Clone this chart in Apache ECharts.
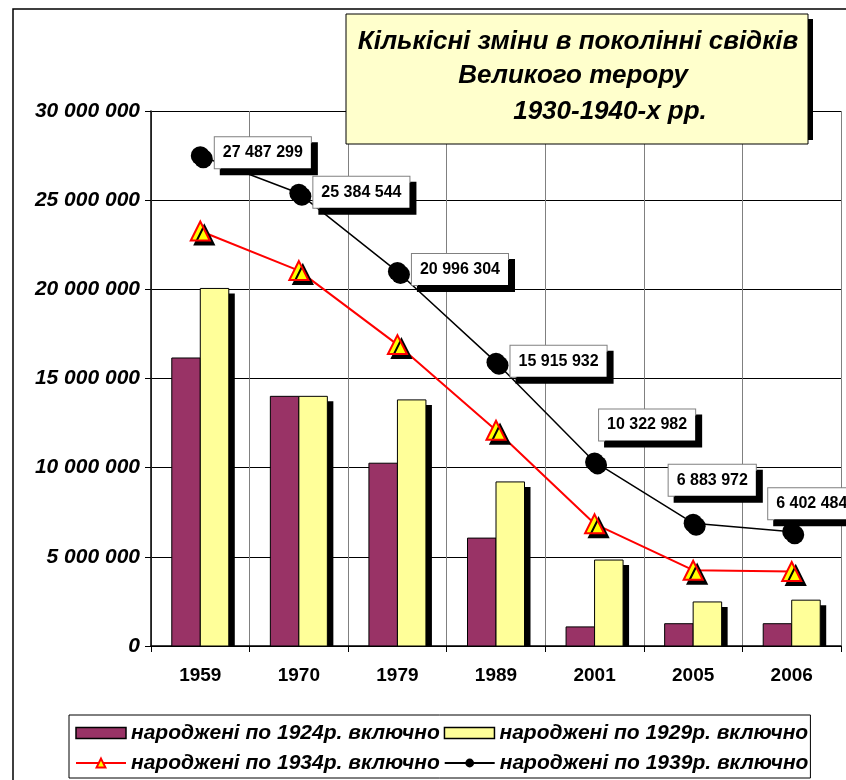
<!DOCTYPE html>
<html>
<head>
<meta charset="utf-8">
<script src="https://cdn.jsdelivr.net/npm/echarts@6/dist/echarts.min.js"></script>
<style>
  html, body { margin: 0; padding: 0; background: #fff; }
  #chart { width: 846px; height: 780px; }
</style>
</head>
<body>
<div id="chart"></div>
<script>
const years = ['1959', '1970', '1979', '1989', '2001', '2005', '2006']
const born1924 = [16150000, 14000000, 10250000, 6050000, 1070000, 1250000, 1250000]
const born1929 = [20050000, 14000000, 13800000, 9200000, 4820000, 2470000, 2570000]
const born1934 = [23270000, 21050000, 16900000, 12100000, 6850000, 4250000, 4180000]
const born1939 = [27487299, 25384544, 20996304, 15915932, 10322982, 6883972, 6402484]
const seriesNames = [
  'народжені по 1924р. включно',
  'народжені по 1929р. включно',
  'народжені по 1934р. включно',
  'народжені по 1939р. включно'
]
const titleLines = ['Кількісні зміни в поколінні свідків', 'Великого терору', '1930-1940-х рр.']

const FONT = '"Liberation Sans", Arial, sans-serif'
const fmtNum = v => String(v).replace(/\B(?=(\d{3})+(?!\d))/g, ' ')

// label offsets for the black line, relative to the default 'right' position
const labelOffsets = [[0, -3], [0, -1], [0, -2], [0, -1], [-10, -37], [-39, -43], [-38, -28]]

const chart = echarts.init(document.getElementById('chart'), null, { renderer: 'canvas' })

// bars drawn by hand so the drop shadow sits behind the outline
function barRenderer(side, color) {
  return function (params, api) {
    const base = api.coord([api.value(0), 0])
    const top = api.coord([api.value(0), api.value(1)])
    const bw = 28.5
    const x = side === 0 ? base[0] - bw : base[0]
    const h = base[1] - top[1]
    return {
      type: 'group',
      children: [
        { type: 'rect', shape: { x: x + 6, y: top[1] + 5, width: bw, height: Math.max(h - 4, 0) }, style: { fill: '#000' } },
        { type: 'rect', shape: { x: x, y: top[1], width: bw, height: h }, style: { fill: color, stroke: '#000', lineWidth: 1 } }
      ]
    }
  }
}

chart.setOption({
  animation: false,
  backgroundColor: '#fff',
  textStyle: { fontFamily: FONT },
  grid: { left: 151, right: 5, top: 111, bottom: 134, containLabel: false },
  xAxis: {
    type: 'category',
    data: years,
    axisLine: { lineStyle: { color: '#000', width: 1.5 } },
    axisTick: { show: true, length: 6, lineStyle: { color: '#000' } },
    axisLabel: { color: '#000', fontSize: 19, fontWeight: 'bold', margin: 20, fontFamily: FONT },
    splitLine: { show: true, lineStyle: { color: '#808080', width: 1 } }
  },
  yAxis: {
    type: 'value',
    min: 0,
    max: 30000000,
    interval: 5000000,
    axisLine: { show: true, lineStyle: { color: '#000', width: 1.5 } },
    axisTick: { show: true, length: 6, lineStyle: { color: '#000' } },
    axisLabel: {
      color: '#000', fontSize: 21, fontWeight: 'bold', fontStyle: 'italic',
      margin: 11, fontFamily: FONT, formatter: fmtNum
    },
    splitLine: { show: true, lineStyle: { color: '#000', width: 1 } }
  },
  legend: {
    left: 69,
    top: 715,
    width: 780,
    padding: [5, 2, 2, 6],
    borderColor: '#000',
    borderWidth: 1,
    itemWidth: 50,
    itemHeight: 11,
    itemGap: 4,
    textStyle: { color: '#000', fontSize: 21, fontWeight: 'bold', fontStyle: 'italic', fontFamily: FONT, lineHeight: 26 },
    itemStyle: { shadowBlur: 0, shadowColor: 'transparent', shadowOffsetX: 0, shadowOffsetY: 0 },
    data: [
      { name: seriesNames[0], icon: 'rect', itemStyle: { color: '#993366', borderColor: '#000', borderWidth: 1.5 } },
      { name: seriesNames[1], icon: 'rect', itemStyle: { color: '#FFFF99', borderColor: '#000', borderWidth: 1.5 } },
      { name: seriesNames[2] },
      { name: seriesNames[3] }
    ]
  },
  graphic: [
    { type: 'rect', shape: { x: 13, y: 9, width: 1000, height: 1000 }, style: { fill: 'none', stroke: '#000', lineWidth: 1.5 }, z: 0 },
    { type: 'rect', shape: { x: 808, y: 19, width: 5, height: 121 }, style: { fill: '#000' }, z: 100 },
    { type: 'rect', shape: { x: 346, y: 14, width: 462, height: 130 }, style: { fill: '#FFFFCC', stroke: '#000', lineWidth: 1 }, z: 100 },
    { type: 'text', x: 578, y: 42, style: { text: titleLines[0], font: 'italic bold 26px ' + FONT, fill: '#000', align: 'center', verticalAlign: 'middle' }, z: 101 },
    { type: 'text', x: 573, y: 76, style: { text: titleLines[1], font: 'italic bold 26px ' + FONT, fill: '#000', align: 'center', verticalAlign: 'middle' }, z: 101 },
    { type: 'text', x: 610, y: 112, style: { text: titleLines[2], font: 'italic bold 26px ' + FONT, fill: '#000', align: 'center', verticalAlign: 'middle' }, z: 101 }
  ],
  series: [
    {
      name: seriesNames[0],
      type: 'custom',
      renderItem: barRenderer(0, '#993366'),
      data: born1924.map((v, i) => [i, v]),
      encode: { x: 0, y: 1 },
      itemStyle: { color: '#993366', borderColor: '#000', borderWidth: 1 }
    },
    {
      name: seriesNames[1],
      type: 'custom',
      renderItem: barRenderer(1, '#FFFF99'),
      data: born1929.map((v, i) => [i, v]),
      encode: { x: 0, y: 1 },
      itemStyle: { color: '#FFFF99', borderColor: '#000', borderWidth: 1 }
    },
    {
      name: seriesNames[2],
      type: 'line',
      data: born1934,
      symbol: 'triangle',
      symbolSize: 19,
      lineStyle: { color: '#FF0000', width: 2 },
      itemStyle: {
        color: '#FFFF00', borderColor: '#FF0000', borderWidth: 2,
        shadowColor: '#000', shadowBlur: 0, shadowOffsetX: 4, shadowOffsetY: 4
      },
      z: 3
    },
    {
      name: seriesNames[3],
      type: 'line',
      data: born1939.map((v, i) => ({ value: v, label: { offset: labelOffsets[i] } })),
      symbol: 'circle',
      symbolSize: 19,
      lineStyle: { color: '#000', width: 1.5 },
      itemStyle: {
        color: '#000', borderColor: '#000', borderWidth: 0,
        shadowColor: '#000', shadowBlur: 0, shadowOffsetX: 3, shadowOffsetY: 3
      },
      label: {
        show: true,
        position: 'right',
        distance: 5,
        formatter: p => fmtNum(p.value),
        color: '#000',
        fontSize: 16,
        fontWeight: 'bold',
        fontFamily: FONT,
        backgroundColor: '#fff',
        borderColor: '#808080',
        borderWidth: 1,
        padding: [8, 8, 7, 8],
        shadowColor: '#000',
        shadowBlur: 0,
        shadowOffsetX: 6,
        shadowOffsetY: 6
      },
      z: 4
    }
  ]
})
</script>
</body>
</html>
